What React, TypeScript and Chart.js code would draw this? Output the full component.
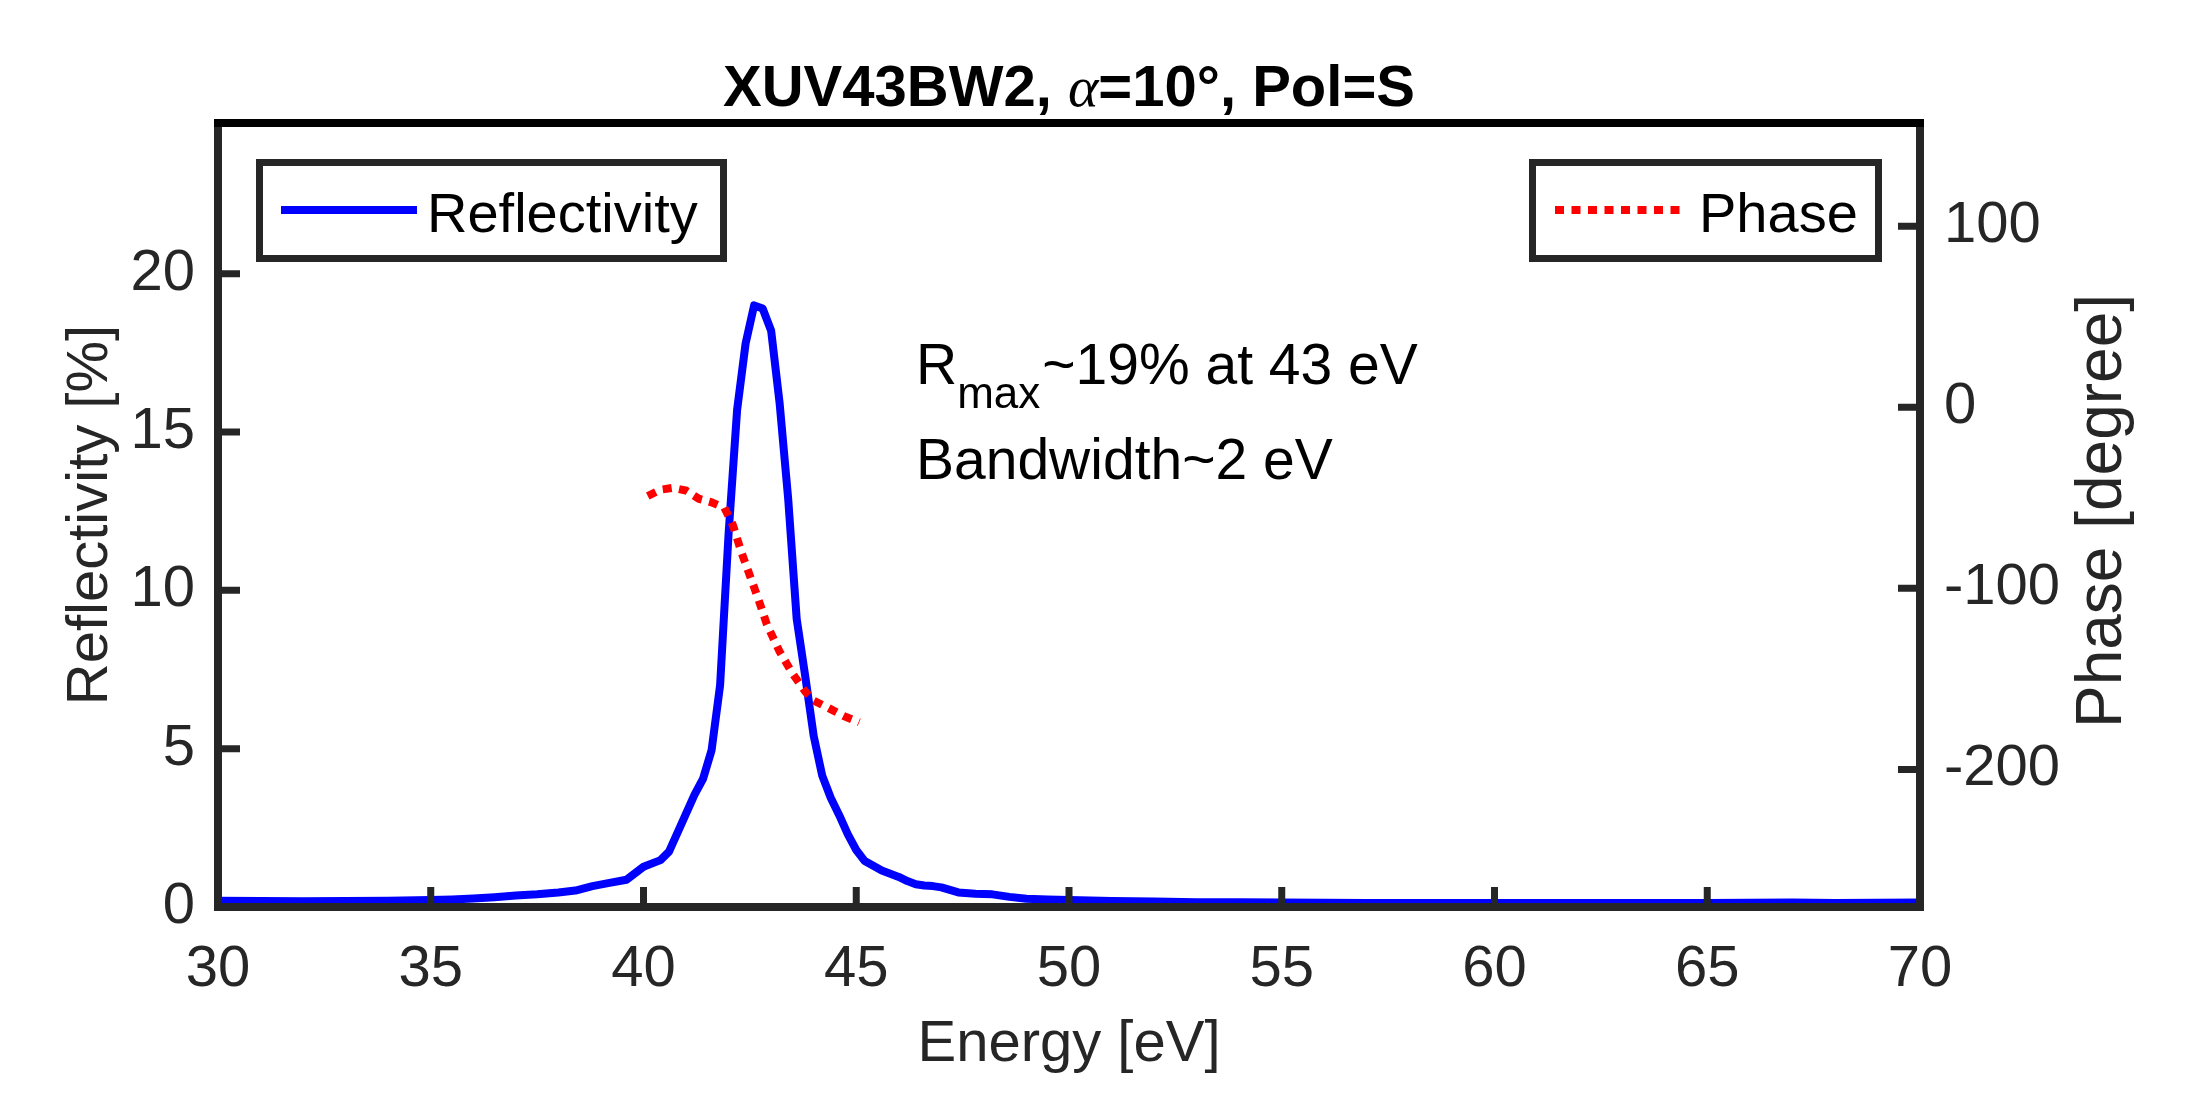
import React, { useEffect, useRef } from 'react';
import { Chart, registerables } from 'chart.js';

Chart.register(...registerables);

const CHART_TITLE_A = 'XUV43BW2, ';
const CHART_TITLE_ALPHA = 'α';
const CHART_TITLE_B = '=10°, Pol=S';
const X_TITLE = 'Energy [eV]';
const Y_TITLE = 'Reflectivity [%]';
const Y2_TITLE = 'Phase [degree]';
const ANNOT_R = 'R';
const ANNOT_SUB = 'max';
const ANNOT_REST = '~19% at 43 eV';
const ANNOT_LINE2 = 'Bandwidth~2 eV';

const energy = [
  30, 31, 32, 33, 34, 35, 35.5, 36, 36.5, 37, 37.5, 38, 38.4, 38.8, 39.2, 39.6,
  40.0, 40.4, 40.6, 40.8, 41.0, 41.2, 41.4, 41.6, 41.8, 42.0, 42.2, 42.4, 42.6, 42.8,
  43.0, 43.2, 43.4, 43.6, 43.8, 44.0, 44.2, 44.4, 44.6, 44.8, 45.0, 45.2, 45.4, 45.6,
  45.8, 46.0, 46.2, 46.4, 46.6, 46.8, 47.0, 47.4, 47.8, 48.2, 48.6, 49.0, 49.5, 50,
  51, 52, 53, 54, 55, 57, 60, 63, 65, 67, 68, 70,
];
const reflectivity = [
  0.20, 0.19, 0.18, 0.19, 0.20, 0.22, 0.24, 0.27, 0.31, 0.36, 0.40, 0.46, 0.52, 0.66, 0.76, 0.86,
  1.27, 1.48, 1.75, 2.35, 2.95, 3.55, 4.05, 4.95, 7.0, 11.8, 15.7, 17.8, 19.0, 18.9,
  18.2, 15.9, 12.9, 9.1, 7.3, 5.4, 4.15, 3.45, 2.9, 2.3, 1.8, 1.45, 1.3, 1.15,
  1.05, 0.95, 0.82, 0.72, 0.68, 0.66, 0.62, 0.46, 0.42, 0.40, 0.32, 0.26, 0.24, 0.22,
  0.19, 0.17, 0.15, 0.15, 0.14, 0.13, 0.13, 0.13, 0.13, 0.14, 0.13, 0.14,
];

const phaseEnergy = [40.1, 40.4, 40.7, 41.0, 41.3, 41.6, 41.9, 42.1, 42.3, 42.5, 42.7, 42.9, 43.2, 43.5, 43.8, 44.0, 44.3, 44.7, 45.07];
const phase = [-49, -45.5, -44.5, -46, -50.5, -52.5, -55.5, -65, -80, -93, -106, -120, -135, -147, -157, -162, -165.5, -170.5, -174];

const xTicks = [30, 35, 40, 45, 50, 55, 60, 65, 70];
const yTicks = [0, 5, 10, 15, 20];
const y2Ticks = [-200, -100, 0, 100];

const X_MIN = 30;
const X_MAX = 70;
const Y_MIN = 0;
const Y_MAX = 24.76;
const Y2_MIN = -276;
const Y2_MAX = 157;

const FONT = '"Liberation Sans", Arial, Helvetica, sans-serif';
const AXIS_COLOR = '#262626';

const decorPlugin = {
  id: 'decor',
  afterDraw(chart: any) {
    const ctx = chart.ctx as CanvasRenderingContext2D;
    const ca = chart.chartArea;
    const xs = chart.scales.x;
    const ys = chart.scales.y;
    const y2s = chart.scales.y1;
    ctx.save();

    // ticks (inward)
    ctx.strokeStyle = AXIS_COLOR;
    ctx.lineWidth = 7;
    ctx.lineCap = 'butt';
    ctx.beginPath();
    xTicks.forEach((v) => {
      const px = xs.getPixelForValue(v);
      ctx.moveTo(px, ca.bottom);
      ctx.lineTo(px, ca.bottom - 20);
    });
    yTicks.forEach((v) => {
      const py = ys.getPixelForValue(v);
      ctx.moveTo(ca.left, py);
      ctx.lineTo(ca.left + 22, py);
    });
    y2Ticks.forEach((v) => {
      const py = y2s.getPixelForValue(v);
      ctx.moveTo(ca.right, py);
      ctx.lineTo(ca.right - 22, py);
    });
    ctx.stroke();

    // frame
    ctx.lineWidth = 8;
    ctx.strokeStyle = AXIS_COLOR;
    ctx.beginPath();
    ctx.moveTo(ca.left, ca.top);
    ctx.lineTo(ca.left, ca.bottom);
    ctx.lineTo(ca.right, ca.bottom);
    ctx.lineTo(ca.right, ca.top);
    ctx.stroke();
    ctx.strokeStyle = '#000000';
    ctx.beginPath();
    ctx.moveTo(ca.left - 4, ca.top);
    ctx.lineTo(ca.right + 4, ca.top);
    ctx.stroke();

    // legends
    const dsPhase = chart.data.datasets[0];
    const dsRefl = chart.data.datasets[1];
    const drawLegendBox = (x: number, y: number, w: number, h: number) => {
      ctx.fillStyle = '#ffffff';
      ctx.fillRect(x, y, w, h);
      ctx.lineWidth = 7;
      ctx.strokeStyle = AXIS_COLOR;
      ctx.setLineDash([]);
      ctx.strokeRect(x, y, w, h);
    };
    drawLegendBox(259.5, 162.5, 464, 96);
    ctx.strokeStyle = dsRefl.borderColor;
    ctx.lineWidth = 8;
    ctx.beginPath();
    ctx.moveTo(281, 210);
    ctx.lineTo(417, 210);
    ctx.stroke();
    ctx.fillStyle = '#000000';
    ctx.font = `56px ${FONT}`;
    ctx.textAlign = 'left';
    ctx.textBaseline = 'alphabetic';
    ctx.fillText(dsRefl.label, 427, 232);

    drawLegendBox(1532.5, 162.5, 346, 96);
    ctx.strokeStyle = dsPhase.borderColor;
    ctx.lineWidth = 8;
    ctx.setLineDash([9, 7.5]);
    ctx.beginPath();
    ctx.moveTo(1555, 210);
    ctx.lineTo(1682, 210);
    ctx.stroke();
    ctx.setLineDash([]);
    ctx.fillStyle = '#000000';
    ctx.font = `56px ${FONT}`;
    ctx.fillText(dsPhase.label, 1699, 232);

    // annotation
    let ax = 916;
    ctx.font = `57px ${FONT}`;
    ctx.fillText(ANNOT_R, ax, 384);
    ax += ctx.measureText(ANNOT_R).width;
    ctx.font = `44px ${FONT}`;
    ctx.fillText(ANNOT_SUB, ax, 408);
    ax += ctx.measureText(ANNOT_SUB).width + 2;
    ctx.font = `57px ${FONT}`;
    ctx.fillText(ANNOT_REST, ax, 384);
    ctx.fillText(ANNOT_LINE2, 916, 479);

    // title
    const fA = `bold 58px ${FONT}`;
    const fAl = `italic 58px "Liberation Serif", "DejaVu Serif", serif`;
    ctx.font = fA;
    const wA = ctx.measureText(CHART_TITLE_A).width;
    const wB = ctx.measureText(CHART_TITLE_B).width;
    ctx.font = fAl;
    const wAl = ctx.measureText(CHART_TITLE_ALPHA).width;
    const total = wA + wAl + wB;
    let tx = (ca.left + ca.right) / 2 - total / 2;
    const ty = 106;
    ctx.fillStyle = '#000000';
    ctx.font = fA;
    ctx.fillText(CHART_TITLE_A, tx, ty);
    tx += wA;
    ctx.font = fAl;
    ctx.fillText(CHART_TITLE_ALPHA, tx, ty);
    tx += wAl;
    ctx.font = fA;
    ctx.fillText(CHART_TITLE_B, tx, ty);

    // right axis title (reads bottom-to-top)
    ctx.save();
    ctx.translate(2121, 511);
    ctx.rotate(-Math.PI / 2);
    ctx.font = `64px ${FONT}`;
    ctx.fillStyle = AXIS_COLOR;
    ctx.textAlign = 'center';
    ctx.textBaseline = 'alphabetic';
    ctx.fillText(Y2_TITLE, 0, 0);
    ctx.restore();

    ctx.restore();
  },
};

export default function App() {
  const canvasRef = useRef<HTMLCanvasElement | null>(null);

  useEffect(() => {
    const canvas = canvasRef.current;
    if (!canvas) return;
    Chart.defaults.font.family = FONT;
    const reflPts = energy.map((e, i) => ({ x: e, y: reflectivity[i] }));
    const phasePts = phaseEnergy.map((e, i) => ({ x: e, y: phase[i] }));
    const tickFont = { family: FONT, size: 58 };

    const chart = new Chart(canvas, {
      type: 'line',
      data: {
        datasets: [
          {
            label: 'Phase',
            data: phasePts,
            yAxisID: 'y1',
            borderColor: '#ff0000',
            borderWidth: 8,
            borderDash: [9, 7.5],
            borderCapStyle: 'butt',
            pointRadius: 0,
            fill: false,
            tension: 0,
            order: 0,
          },
          {
            label: 'Reflectivity',
            data: reflPts,
            yAxisID: 'y',
            borderColor: '#0000ff',
            borderWidth: 8,
            borderJoinStyle: 'round',
            pointRadius: 0,
            fill: false,
            tension: 0,
            order: 1,
          },
        ],
      },
      options: {
        responsive: false,
        animation: false,
        devicePixelRatio: 1,
        parsing: false,
        layout: { padding: { top: 123, left: 0, right: 0, bottom: 0 } },
        plugins: {
          legend: { display: false },
          title: { display: false },
          tooltip: { enabled: false },
        },
        scales: {
          x: {
            type: 'linear',
            position: 'bottom',
            min: X_MIN,
            max: X_MAX,
            afterBuildTicks: (s: any) => {
              s.ticks = xTicks.map((value) => ({ value }));
            },
            afterFit: (s: any) => {
              s.height = 187;
            },
            grid: { display: false, drawTicks: false },
            border: { display: false },
            ticks: { padding: 28, color: AXIS_COLOR, font: tickFont, maxRotation: 0, autoSkip: false },
            title: {
              display: true,
              text: X_TITLE,
              color: AXIS_COLOR,
              font: tickFont,
              padding: { top: 0, bottom: 14 },
            },
          },
          y: {
            type: 'linear',
            position: 'left',
            min: Y_MIN,
            max: Y_MAX,
            afterBuildTicks: (s: any) => {
              s.ticks = yTicks.map((value) => ({ value }));
            },
            afterFit: (s: any) => {
              s.width = 218;
            },
            grid: { display: false, drawTicks: false },
            border: { display: false },
            ticks: { padding: 23, color: AXIS_COLOR, font: tickFont, autoSkip: false },
            title: {
              display: true,
              text: Y_TITLE,
              color: AXIS_COLOR,
              font: tickFont,
              padding: { top: 56, bottom: 0 },
            },
          },
          y1: {
            type: 'linear',
            position: 'right',
            min: Y2_MIN,
            max: Y2_MAX,
            afterBuildTicks: (s: any) => {
              s.ticks = y2Ticks.map((value) => ({ value }));
            },
            afterFit: (s: any) => {
              s.width = 267;
            },
            grid: { display: false, drawTicks: false },
            border: { display: false },
            ticks: { padding: 24, color: AXIS_COLOR, font: tickFont, autoSkip: false },
            title: { display: false },
          },
        },
      },
      plugins: [decorPlugin],
    } as any);

    return () => {
      chart.destroy();
    };
  }, []);

  return (
    <div style={{ position: 'absolute', left: 0, top: 0, width: 2187, height: 1094, background: '#ffffff' }}>
      <canvas ref={canvasRef} width={2187} height={1094} style={{ display: 'block', width: 2187, height: 1094 }} />
    </div>
  );
}
